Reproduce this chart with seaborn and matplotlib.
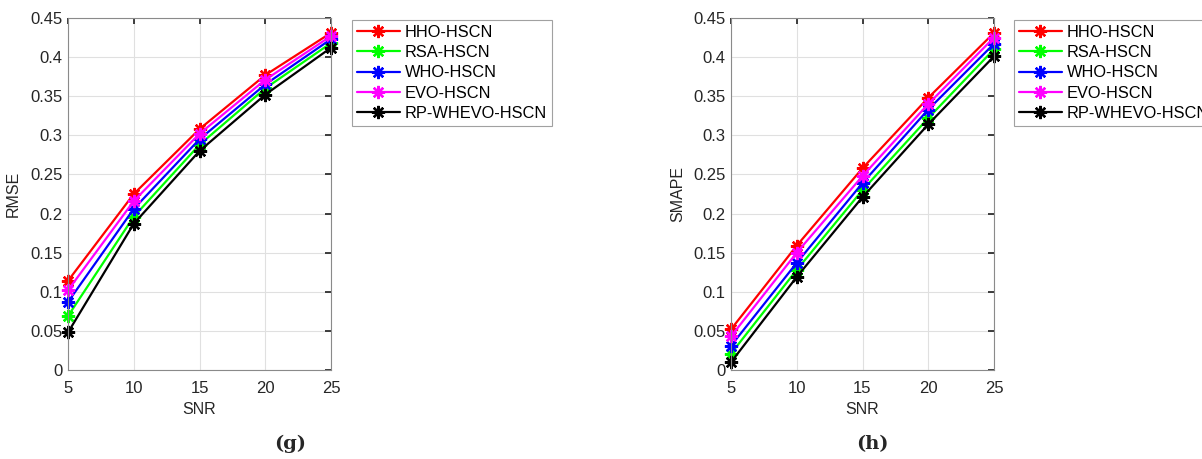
import matplotlib
matplotlib.use("Agg")
import matplotlib.pyplot as plt
import seaborn as sns
import pandas as pd

snr = [5, 10, 15, 20, 25]
methods = ["HHO-HSCN", "RSA-HSCN", "WHO-HSCN", "EVO-HSCN", "RP-WHEVO-HSCN"]
colors = ["#ff0000", "#00ff00", "#0000ff", "#ff00ff", "#000000"]

rmse_hho = [0.114, 0.225, 0.308, 0.377, 0.431]
rmse_rsa = [0.069, 0.196, 0.288, 0.360, 0.418]
rmse_who = [0.087, 0.206, 0.295, 0.365, 0.423]
rmse_evo = [0.102, 0.216, 0.302, 0.371, 0.427]
rmse_rp = [0.048, 0.187, 0.280, 0.352, 0.412]

smape_hho = [0.052, 0.159, 0.258, 0.348, 0.431]
smape_rsa = [0.021, 0.128, 0.230, 0.322, 0.410]
smape_who = [0.031, 0.137, 0.239, 0.333, 0.417]
smape_evo = [0.043, 0.150, 0.248, 0.340, 0.425]
smape_rp = [0.010, 0.119, 0.221, 0.314, 0.401]

yticks = [0, 0.05, 0.1, 0.15, 0.2, 0.25, 0.3, 0.35, 0.4, 0.45]
ytick_labels = ["0", "0.05", "0.1", "0.15", "0.2", "0.25", "0.3", "0.35", "0.4", "0.45"]

sns.set_theme(style="white")
plt.rcParams["font.family"] = ["Liberation Sans", "DejaVu Sans"]

fig = plt.figure(figsize=(12.02, 4.59), dpi=100)
W, H = 1202, 459

def make_df(series):
    rows = []
    for m, vals in zip(methods, series):
        for x, v in zip(snr, vals):
            rows.append({"SNR": x, "value": v, "method": m})
    return pd.DataFrame(rows)

panels = [
    (68, "RMSE", (-0.178, 0.5),
     [rmse_hho, rmse_rsa, rmse_who, rmse_evo, rmse_rp], 352, "(g)", 290),
    (731, "SMAPE", (-0.175, 0.5),
     [smape_hho, smape_rsa, smape_who, smape_evo, smape_rp], 1014, "(h)", 872),
]
text_c = "#262626"
for x0, ylab, ylpos, series, legx, cap, capx in panels:
    ax = fig.add_axes([x0 / W, (H - 370) / H, (331 - 68) / W, (370 - 18) / H])
    df = make_df(series)
    for m, c in zip(methods, colors):
        sub = df[df["method"] == m]
        sns.lineplot(data=sub, x="SNR", y="value", ax=ax, color=c, linewidth=1.6,
                     marker=(8, 2, 0), markersize=9.5, markeredgewidth=1.7,
                     markeredgecolor=c, label=m, legend=False, clip_on=False)
    ax.set_xlim(5, 25)
    ax.set_ylim(0, 0.45)
    ax.set_xticks(snr)
    ax.set_xticklabels([str(s) for s in snr])
    ax.set_yticks(yticks)
    ax.set_yticklabels(ytick_labels)
    ax.grid(True, color="#e0e0e0", linewidth=0.8)
    ax.tick_params(direction="in", length=4, top=True, right=True, labelsize=12,
                   colors=text_c, labelcolor=text_c)
    ax.tick_params(axis="x", pad=8)
    ax.tick_params(axis="y", pad=4)
    for s in ax.spines.values():
        s.set_color("#8a8a8a")
        s.set_linewidth(0.8)
    ax.set_xlabel("SNR", fontsize=11.5, color=text_c, labelpad=4)
    ax.set_ylabel(ylab, fontsize=11.5, color=text_c)
    ax.yaxis.set_label_coords(*ylpos)
    handles, labels = ax.get_legend_handles_labels()
    leg = fig.legend(handles, labels, loc="upper left",
                     bbox_to_anchor=(legx / W, 1 - 20 / H), fontsize=11.8,
                     frameon=True, fancybox=False, edgecolor="#8a8a8a",
                     handlelength=2.6, handletextpad=0.3, labelspacing=0.32,
                     borderpad=0.3, borderaxespad=0)
    leg.get_frame().set_linewidth(0.8)
    for t in leg.get_texts():
        t.set_color("black")
    fig.text(capx / W, 1 - 444 / H, cap, ha="center", va="center",
             fontsize=14, fontweight="bold", family="DejaVu Serif")

fig.savefig("out.png", dpi=100)
